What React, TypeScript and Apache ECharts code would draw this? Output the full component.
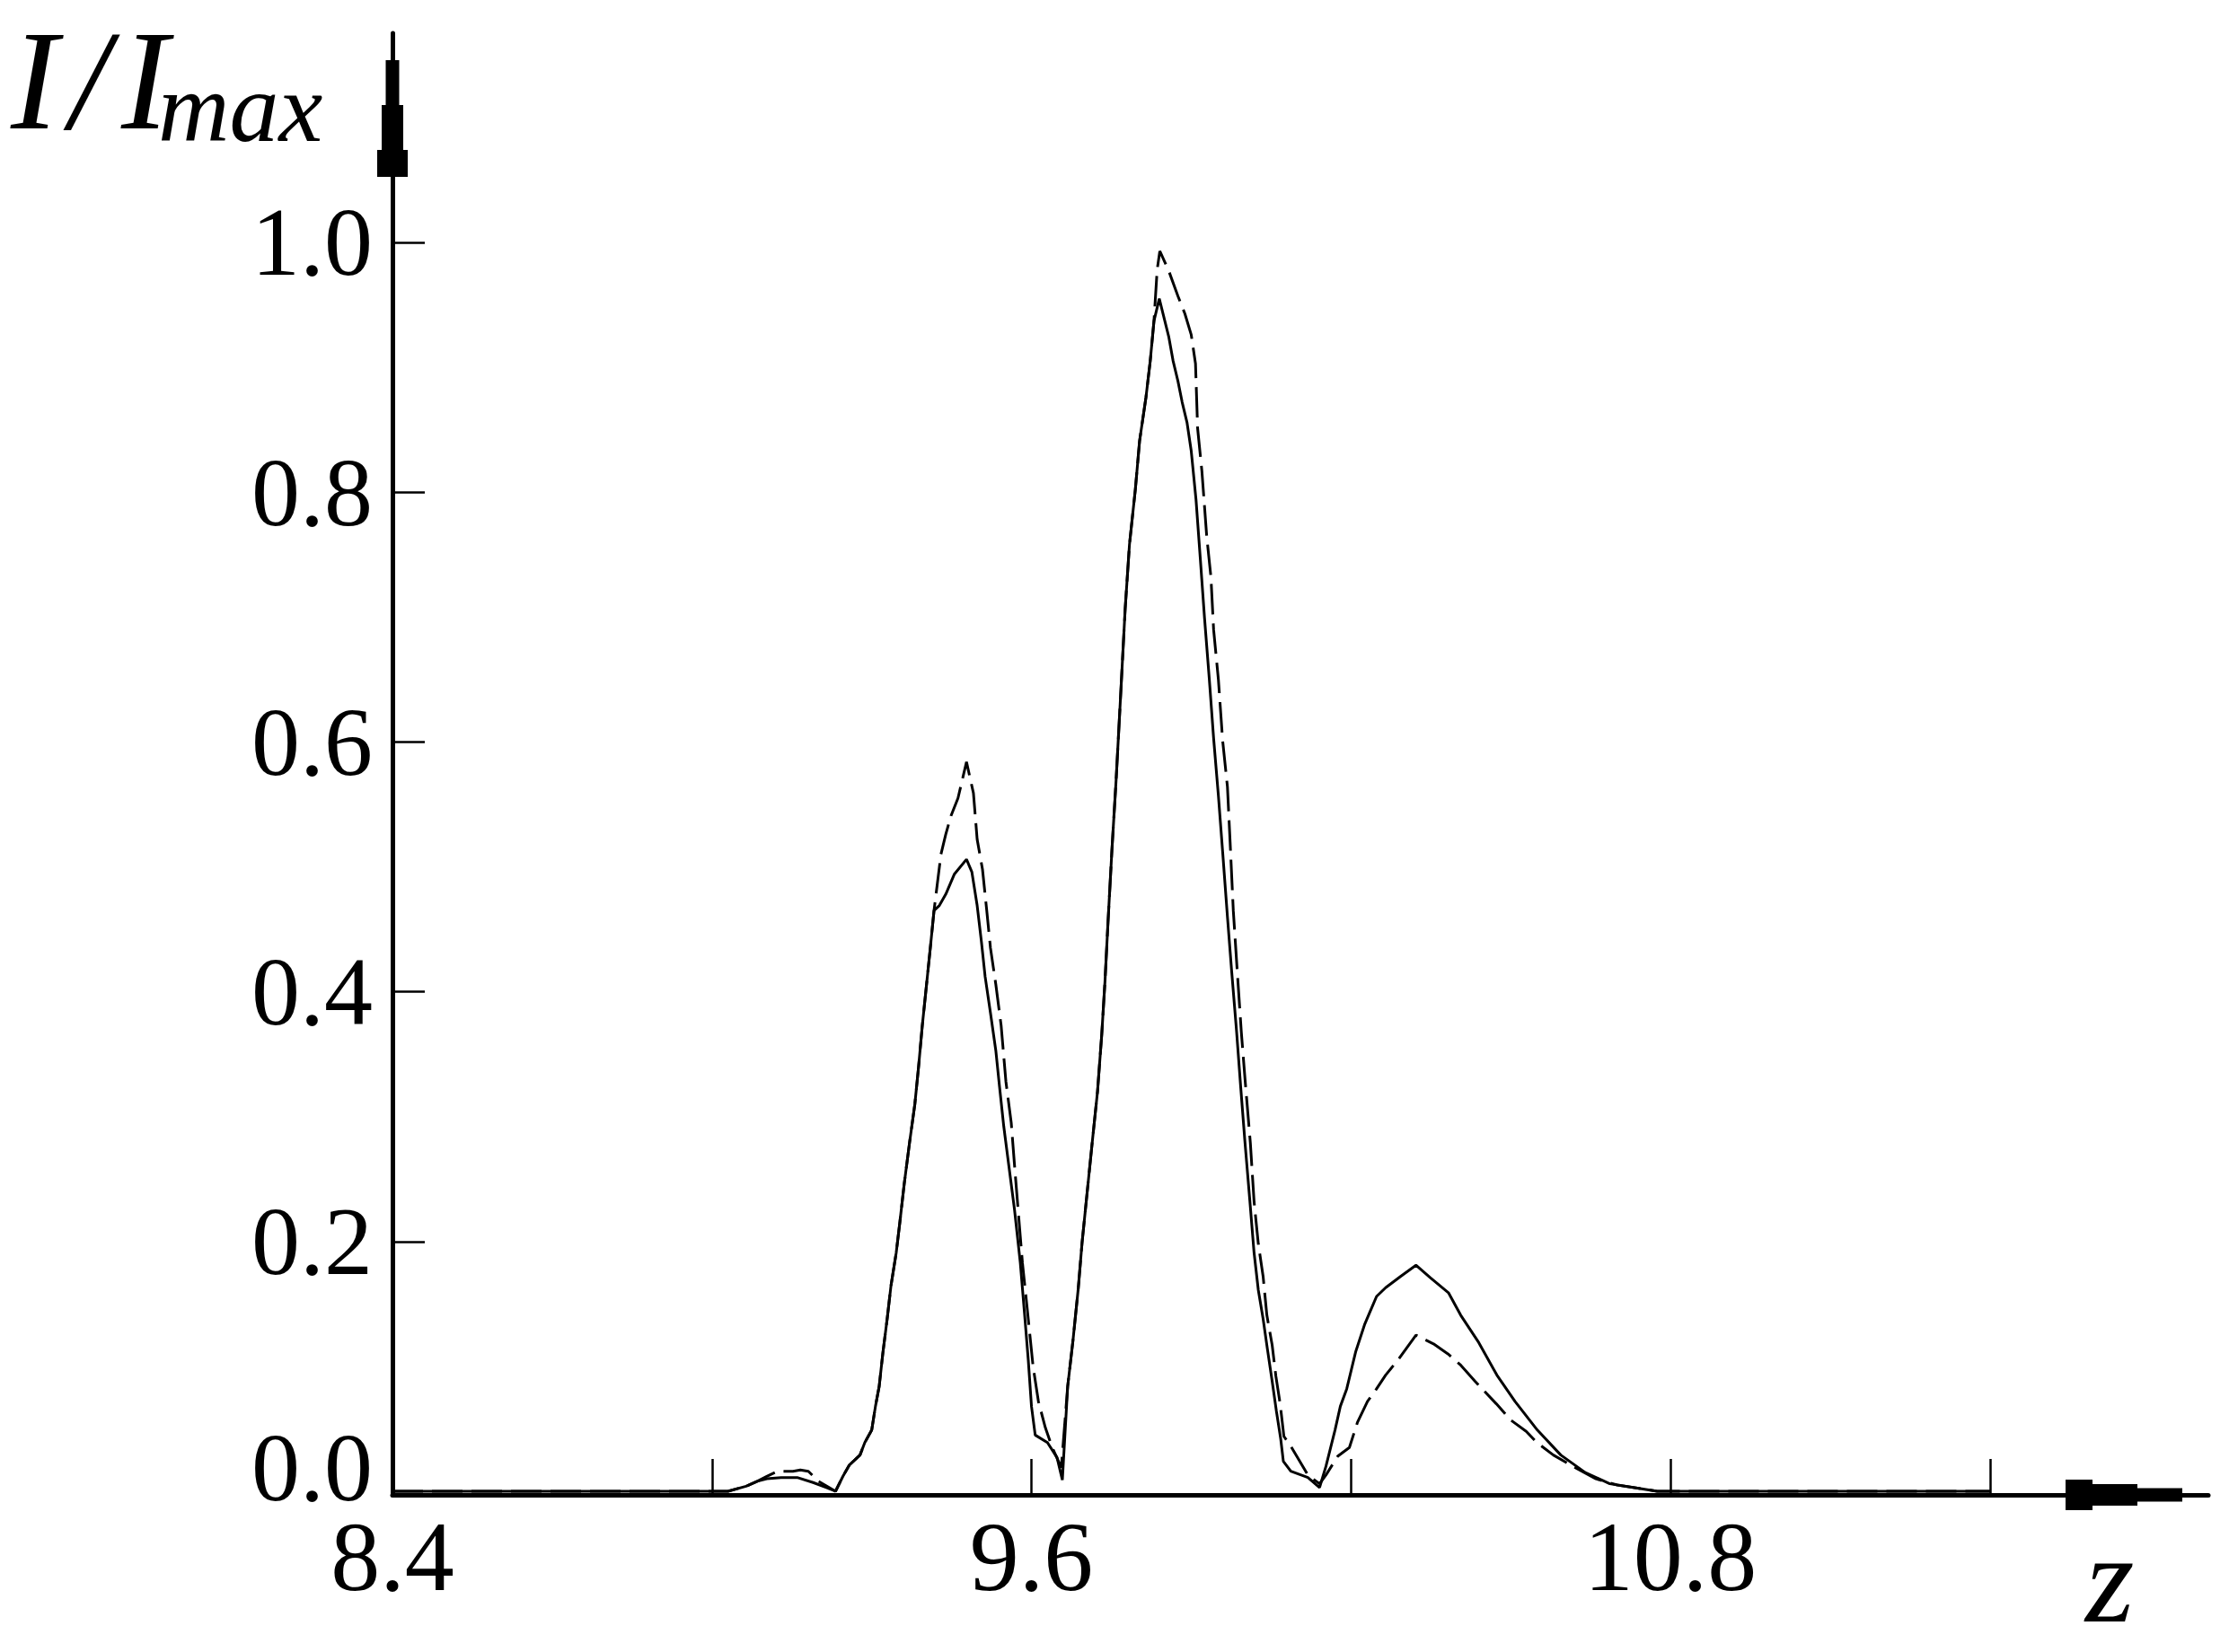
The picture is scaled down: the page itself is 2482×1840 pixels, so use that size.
import React, { useEffect, useRef } from 'react';
import * as echarts from 'echarts';

// Solid curve: z positions and relative intensity
const solidZ = [
  8.40, 9.03, 9.064, 9.085, 9.103, 9.130, 9.160, 9.190, 9.215, 9.232,
  9.246, 9.258, 9.278, 9.287, 9.300, 9.307, 9.314, 9.321, 9.329, 9.336,
  9.346, 9.353, 9.361, 9.371, 9.381, 9.388, 9.395, 9.403, 9.410, 9.417,
  9.427, 9.439, 9.455, 9.478, 9.488, 9.498, 9.506, 9.513, 9.523, 9.533,
  9.540, 9.548, 9.558, 9.568, 9.579, 9.587, 9.594, 9.600, 9.607, 9.630,
  9.648, 9.658, 9.668, 9.678, 9.688, 9.695, 9.704, 9.714, 9.724, 9.732,
  9.738, 9.744, 9.751, 9.759, 9.768, 9.776, 9.784, 9.795, 9.803, 9.815,
  9.823, 9.830, 9.840, 9.858, 9.866, 9.875, 9.883, 9.892, 9.900, 9.909,
  9.917, 9.925, 9.934, 9.942, 9.951, 9.959, 9.968, 9.976, 9.985, 9.993,
  10.001, 10.010, 10.018, 10.026, 10.035, 10.043, 10.052, 10.060, 10.068, 10.073,
  10.087, 10.119, 10.141, 10.153, 10.170, 10.180, 10.192, 10.209, 10.226, 10.248,
  10.265, 10.293, 10.322, 10.349, 10.383, 10.406, 10.440, 10.474, 10.508, 10.550,
  10.594, 10.640, 10.686, 10.746, 10.775, 11.40,
];
const solidI = [
  0, 0, 0.004, 0.008, 0.010, 0.011, 0.011, 0.007, 0.003, 0.000,
  0.012, 0.021, 0.029, 0.039, 0.049, 0.068, 0.084, 0.111, 0.138, 0.164,
  0.191, 0.216, 0.246, 0.279, 0.310, 0.340, 0.373, 0.406, 0.435, 0.465,
  0.469, 0.478, 0.494, 0.506, 0.496, 0.469, 0.440, 0.412, 0.383, 0.353,
  0.324, 0.292, 0.259, 0.226, 0.183, 0.142, 0.105, 0.068, 0.045, 0.039,
  0.027, 0.009, 0.084, 0.121, 0.163, 0.199, 0.237, 0.279, 0.320, 0.366,
  0.408, 0.458, 0.513, 0.570, 0.642, 0.707, 0.758, 0.802, 0.841, 0.876,
  0.905, 0.937, 0.955, 0.924, 0.905, 0.889, 0.872, 0.856, 0.833, 0.794,
  0.747, 0.699, 0.650, 0.603, 0.557, 0.512, 0.460, 0.416, 0.369, 0.323,
  0.279, 0.233, 0.191, 0.161, 0.138, 0.114, 0.088, 0.064, 0.042, 0.024,
  0.016, 0.011, 0.003, 0.020, 0.049, 0.068, 0.082, 0.112, 0.134, 0.156,
  0.163, 0.172, 0.181, 0.171, 0.159, 0.141, 0.119, 0.093, 0.072, 0.049,
  0.029, 0.015, 0.006, 0.002, 0, 0,
];

// Dashed curve
const dashedZ = [
  8.40, 9.03, 9.064, 9.085, 9.103, 9.123, 9.152, 9.166, 9.181, 9.200,
  9.220, 9.232, 9.246, 9.258, 9.278, 9.287, 9.300, 9.307, 9.314, 9.321,
  9.329, 9.336, 9.346, 9.353, 9.361, 9.371, 9.381, 9.388, 9.395, 9.403,
  9.410, 9.417, 9.430, 9.439, 9.449, 9.462, 9.478, 9.491, 9.498, 9.508,
  9.516, 9.523, 9.533, 9.543, 9.552, 9.562, 9.568, 9.575, 9.583, 9.593,
  9.603, 9.613, 9.626, 9.639, 9.656, 9.668, 9.678, 9.688, 9.695, 9.704,
  9.714, 9.724, 9.732, 9.738, 9.744, 9.751, 9.759, 9.768, 9.776, 9.784,
  9.795, 9.803, 9.815, 9.823, 9.830, 9.836, 9.841, 9.858, 9.875, 9.888,
  9.900, 9.908, 9.912, 9.920, 9.929, 9.937, 9.942, 9.951, 9.959, 9.968,
  9.973, 9.979, 9.986, 9.994, 10.001, 10.011, 10.018, 10.026, 10.035, 10.042,
  10.052, 10.059, 10.067, 10.074, 10.087, 10.119, 10.141, 10.153, 10.175, 10.197,
  10.212, 10.231, 10.248, 10.265, 10.288, 10.322, 10.355, 10.382, 10.406, 10.433,
  10.473, 10.500, 10.529, 10.549, 10.580, 10.625, 10.660, 10.700, 10.746, 10.775,
  11.40,
];
const dashedI = [
  0, 0, 0.004, 0.008, 0.012, 0.016, 0.016, 0.017, 0.016, 0.008,
  0.003, 0.000, 0.012, 0.021, 0.029, 0.039, 0.049, 0.068, 0.084, 0.111,
  0.138, 0.164, 0.191, 0.216, 0.246, 0.279, 0.310, 0.340, 0.373, 0.406,
  0.435, 0.465, 0.510, 0.526, 0.541, 0.555, 0.584, 0.559, 0.522, 0.498,
  0.465, 0.435, 0.406, 0.373, 0.328, 0.295, 0.262, 0.225, 0.183, 0.142,
  0.100, 0.072, 0.051, 0.035, 0.019, 0.084, 0.121, 0.163, 0.199, 0.237,
  0.279, 0.320, 0.366, 0.408, 0.458, 0.513, 0.570, 0.642, 0.707, 0.758,
  0.802, 0.841, 0.876, 0.905, 0.937, 0.978, 0.993, 0.977, 0.957, 0.943,
  0.926, 0.903, 0.851, 0.817, 0.765, 0.732, 0.690, 0.650, 0.601, 0.564,
  0.520, 0.465, 0.419, 0.368, 0.330, 0.279, 0.232, 0.198, 0.172, 0.141,
  0.117, 0.092, 0.070, 0.044, 0.036, 0.013, 0.006, 0.013, 0.028, 0.035,
  0.055, 0.072, 0.082, 0.093, 0.105, 0.125, 0.118, 0.110, 0.101, 0.088,
  0.070, 0.057, 0.048, 0.039, 0.029, 0.018, 0.010, 0.005, 0.002, 0,
  0,
];

const xTickValues = [9.0, 9.6, 10.2, 10.8, 11.4];
const xLabelValues = [8.4, 9.6, 10.8];
const yTickValues = [0.2, 0.4, 0.6, 0.8, 1.0];
const yLabelValues = [0, 0.2, 0.4, 0.6, 0.8, 1.0];

const SERIF = '"Liberation Serif", "Times New Roman", serif';
const ARROW = 'path://M9.5 0H24.5V50H29V100H34V130H0V100H5V50H9.5Z';

export default function App() {
  const ref = useRef<HTMLDivElement>(null);
  useEffect(() => {
    if (!ref.current) return;
    const chart = echarts.init(ref.current, undefined, { renderer: 'svg' });
    const solidData = solidZ.map((z, i) => [z, solidI[i]]);
    const dashedData = dashedZ.map((z, i) => [z, dashedI[i]]);
    chart.setOption({
      animation: false,
      backgroundColor: '#ffffff',
      grid: {
        left: 437,
        right: 23,
        top: 37,
        bottom: 175,
        containLabel: false,
        outerBoundsMode: 'none',
      },
      xAxis: {
        type: 'value',
        min: 8.4,
        max: 11.81,
        splitLine: { show: false },
        axisLine: {
          show: true,
          onZero: false,
          lineStyle: { color: '#000', width: 5 },
          symbol: ['none', ARROW],
          symbolSize: [34, 130],
          symbolOffset: [0, -94],
        },
        axisTick: {
          show: true,
          inside: true,
          length: 40,
          customValues: xTickValues,
          lineStyle: { color: '#000', width: 2.5 },
        },
        axisLabel: {
          show: true,
          customValues: xLabelValues,
          margin: 14,
          color: '#000',
          fontFamily: SERIF,
          fontSize: 110,
          formatter: (v: number) => v.toFixed(1),
        },
      },
      yAxis: {
        type: 'value',
        min: -0.0029,
        max: 1.1675,
        splitLine: { show: false },
        axisLine: {
          show: true,
          onZero: false,
          lineStyle: { color: '#000', width: 5 },
          symbol: ['none', ARROW],
          symbolSize: [34, 130],
          symbolOffset: [0, -95],
        },
        axisTick: {
          show: true,
          inside: true,
          length: 36,
          customValues: yTickValues,
          lineStyle: { color: '#000', width: 2.5 },
        },
        axisLabel: {
          show: true,
          customValues: yLabelValues,
          margin: 22,
          color: '#000',
          fontFamily: SERIF,
          fontSize: 108,
          formatter: (v: number) => (v === 0 ? '{lift|0.0}' : v.toFixed(1)),
          rich: {
            lift: {
              color: '#000',
              fontFamily: SERIF,
              fontSize: 108,
              padding: [0, 0, 52, 0],
            },
          },
        },
      },
      series: [
        {
          type: 'line',
          data: solidData,
          showSymbol: false,
          symbol: 'none',
          lineStyle: { color: '#000', width: 3, type: 'solid' },
          z: 3,
        },
        {
          type: 'line',
          data: dashedData,
          showSymbol: false,
          symbol: 'none',
          lineStyle: { color: '#000', width: 3, type: [34, 10] },
          z: 3,
        },
      ],
      graphic: [
        {
          type: 'text',
          x: 12,
          y: 89,
          style: {
            text: 'I\u200A/\u200AI',
            font: `italic 158px ${SERIF}`,
            lineHeight: 120,
            fill: '#000',
            align: 'left',
            verticalAlign: 'middle',
          },
        },
        {
          type: 'text',
          x: 176,
          y: 120,
          style: {
            text: 'max',
            font: `italic 110px ${SERIF}`,
            lineHeight: 100,
            fill: '#000',
            align: 'left',
            verticalAlign: 'middle',
          },
        },
        {
          type: 'text',
          x: 2322,
          y: 1758,
          style: {
            text: 'z',
            font: `italic 140px ${SERIF}`,
            fill: '#000',
            align: 'left',
            verticalAlign: 'middle',
          },
        },
      ],
    });
    return () => chart.dispose();
  }, []);
  return (
    <div
      ref={ref}
      style={{
        position: 'absolute',
        left: 0,
        top: 0,
        width: 2482,
        height: 1840,
        background: '#ffffff',
      }}
    />
  );
}
